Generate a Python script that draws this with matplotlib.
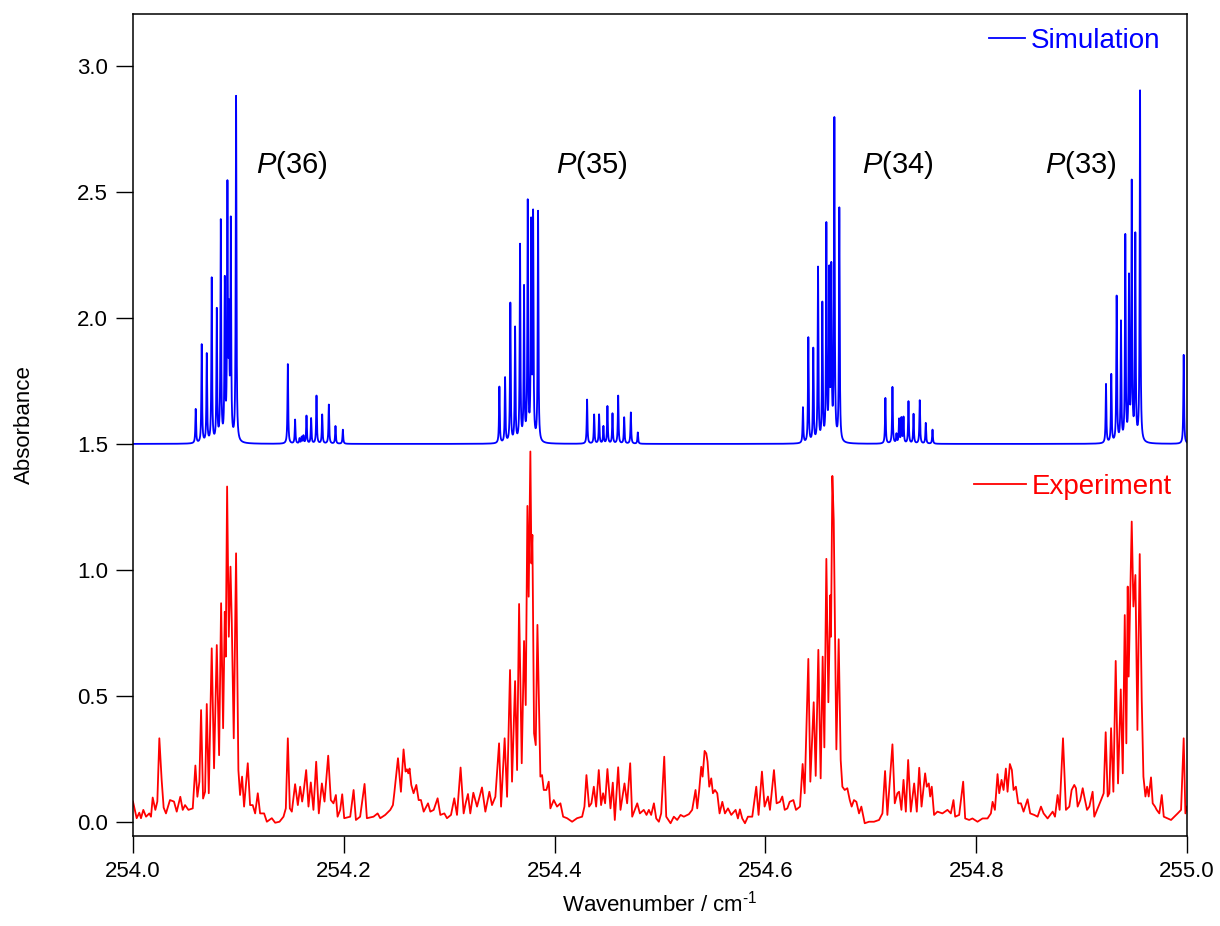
import matplotlib.pyplot as plt
import numpy as np

plt.rcParams['font.family'] = ['Liberation Sans', 'DejaVu Sans']
plt.rcParams['mathtext.fontset'] = 'custom'
plt.rcParams['mathtext.rm'] = 'Liberation Sans'
plt.rcParams['mathtext.it'] = 'Liberation Sans:italic'

# simulated stick spectrum: line positions (cm-1) and peak heights above the offset
sim_pos = [254.0595, 254.0652, 254.0700, 254.0747, 254.0795, 254.0833, 254.0871, 254.0896, 254.0911, 254.0928, 254.0978,
           254.1469, 254.1538, 254.1580, 254.1600, 254.1617, 254.1646, 254.1690, 254.1741, 254.1795, 254.1858, 254.1921, 254.1991,
           254.3476, 254.3530, 254.3580, 254.3625, 254.3672, 254.3710, 254.3745, 254.3777, 254.3796, 254.3843,
           254.4308, 254.4375, 254.4422, 254.4463, 254.4501, 254.4549, 254.4603, 254.4660, 254.4723, 254.4789,
           254.6356, 254.6407, 254.6454, 254.6499, 254.6540, 254.6578, 254.6606, 254.6625, 254.6654, 254.6701,
           254.7138, 254.7205, 254.7243, 254.7268, 254.7290, 254.7310, 254.7357, 254.7405, 254.7464, 254.7521, 254.7585,
           254.9231, 254.9281, 254.9332, 254.9373, 254.9414, 254.9449, 254.9475, 254.9509, 254.9554, 254.9968]
sim_int = [0.135, 0.39, 0.35, 0.65, 0.52, 0.87, 0.62, 0.98, 0.45, 0.85, 1.37,
           0.316, 0.095, 0.02, 0.025, 0.03, 0.11, 0.10, 0.19, 0.115, 0.155, 0.07, 0.056,
           0.224, 0.258, 0.552, 0.452, 0.778, 0.603, 0.94, 0.84, 0.88, 0.913,
           0.175, 0.115, 0.115, 0.068, 0.148, 0.119, 0.19, 0.104, 0.124, 0.045,
           0.141, 0.417, 0.37, 0.69, 0.542, 0.85, 0.65, 0.66, 1.27, 0.925,
           0.181, 0.224, 0.036, 0.095, 0.098, 0.102, 0.167, 0.117, 0.172, 0.082, 0.056,
           0.234, 0.27, 0.578, 0.472, 0.812, 0.635, 1.015, 0.81, 1.392, 0.353]
sim_offset = 1.5
sim_hwhm = 0.0004

# measured spectrum
exp_wn = [254.0000, 254.0035, 254.0060, 254.0076, 254.0098, 254.0124, 254.0155, 254.0171, 254.0187, 254.0212,
          254.0231, 254.0250, 254.0272, 254.0291, 254.0313, 254.0351, 254.0389, 254.0415, 254.0449, 254.0472,
          254.0494, 254.0526, 254.0567, 254.0592, 254.0611, 254.0630, 254.0646, 254.0665, 254.0684, 254.0700,
          254.0719, 254.0747, 254.0769, 254.0795, 254.0817, 254.0836, 254.0855, 254.0871, 254.0880, 254.0893,
          254.0909, 254.0925, 254.0937, 254.0956, 254.0978, 254.1000, 254.1016, 254.1035, 254.1054, 254.1089,
          254.1111, 254.1136, 254.1159, 254.1184, 254.1206, 254.1244, 254.1270, 254.1317, 254.1349, 254.1390,
          254.1428, 254.1450, 254.1469, 254.1488, 254.1507, 254.1538, 254.1564, 254.1586, 254.1605, 254.1617,
          254.1643, 254.1665, 254.1687, 254.1712, 254.1738, 254.1763, 254.1792, 254.1817, 254.1852, 254.1877,
          254.1902, 254.1925, 254.1941, 254.1966, 254.1985, 254.2004, 254.2061, 254.2093, 254.2115, 254.2155,
          254.2197, 254.2219, 254.2282, 254.2321,
          254.2346, 254.2393, 254.2441, 254.2466, 254.2479, 254.2514, 254.2542, 254.2567, 254.2586, 254.2599,
          254.2612, 254.2624, 254.2640, 254.2662, 254.2688, 254.2710, 254.2732, 254.2758, 254.2799, 254.2821,
          254.2853, 254.2890, 254.2916, 254.2954, 254.2979, 254.3017, 254.3048, 254.3074, 254.3108, 254.3137,
          254.3156, 254.3178, 254.3200, 254.3229, 254.3264, 254.3311, 254.3343, 254.3381, 254.3406, 254.3438,
          254.3473, 254.3492, 254.3526, 254.3549, 254.3577, 254.3596, 254.3625, 254.3644, 254.3663, 254.3688,
          254.3710, 254.3726, 254.3742, 254.3754, 254.3770, 254.3780, 254.3789, 254.3805, 254.3821, 254.3837,
          254.3865, 254.3881, 254.3897, 254.3922, 254.3944, 254.3960, 254.3992, 254.4023, 254.4055, 254.4081,
          254.4118, 254.4166, 254.4213, 254.4261, 254.4283, 254.4302, 254.4327, 254.4349, 254.4372, 254.4394,
          254.4419, 254.4441, 254.4460, 254.4479, 254.4501, 254.4530, 254.4552, 254.4571, 254.4603, 254.4625,
          254.4663, 254.4688, 254.4717, 254.4736, 254.4784, 254.4809,
          254.4846, 254.4872, 254.4894, 254.4916, 254.4942, 254.4964, 254.4989, 254.5011, 254.5040, 254.5059,
          254.5100, 254.5131, 254.5163, 254.5195, 254.5226, 254.5274, 254.5305, 254.5337, 254.5353, 254.5372,
          254.5391, 254.5404, 254.5423, 254.5439, 254.5451, 254.5467, 254.5486, 254.5502, 254.5521, 254.5543,
          254.5565, 254.5591, 254.5616, 254.5645, 254.5676, 254.5717, 254.5739, 254.5758, 254.5780, 254.5806,
          254.5834, 254.5875, 254.5913, 254.5935, 254.5967, 254.5992, 254.6024, 254.6043, 254.6081, 254.6106,
          254.6138, 254.6160, 254.6183, 254.6208, 254.6230, 254.6265, 254.6290, 254.6328, 254.6353, 254.6372,
          254.6407, 254.6426, 254.6458, 254.6477, 254.6502, 254.6524, 254.6543, 254.6559, 254.6578, 254.6597,
          254.6616, 254.6622, 254.6635, 254.6648, 254.6660, 254.6673, 254.6695, 254.6714, 254.6730, 254.6752,
          254.6777, 254.6800, 254.6818, 254.6840, 254.6863, 254.6888, 254.6910, 254.6942, 254.6983, 254.7030,
          254.7078, 254.7110, 254.7135, 254.7157, 254.7205, 254.7227, 254.7252, 254.7268, 254.7290, 254.7310,
          254.7332, 254.7354, 254.7379, 254.7411, 254.7436, 254.7459,
          254.7481, 254.7515, 254.7531, 254.7550, 254.7563, 254.7578, 254.7600, 254.7632, 254.7679, 254.7727,
          254.7759, 254.7784, 254.7800, 254.7838, 254.7876, 254.7895, 254.7933, 254.7964, 254.8012, 254.8060,
          254.8107, 254.8139, 254.8155, 254.8177, 254.8202, 254.8218, 254.8240, 254.8259, 254.8281, 254.8297,
          254.8319, 254.8338, 254.8354, 254.8376, 254.8398, 254.8424, 254.8449, 254.8487, 254.8512, 254.8550,
          254.8582, 254.8614, 254.8639, 254.8677, 254.8725, 254.8747, 254.8772, 254.8791, 254.8823, 254.8851,
          254.8883, 254.8905, 254.8930, 254.8946, 254.8962, 254.8987, 254.9010, 254.9025, 254.9051, 254.9073,
          254.9104, 254.9120, 254.9152, 254.9184, 254.9209, 254.9228, 254.9247, 254.9263, 254.9279, 254.9301,
          254.9323, 254.9345, 254.9371, 254.9390, 254.9409, 254.9424, 254.9437, 254.9446, 254.9475, 254.9491,
          254.9510, 254.9529, 254.9551, 254.9570, 254.9586, 254.9605, 254.9621, 254.9636, 254.9658, 254.9674,
          254.9696, 254.9712, 254.9737, 254.9760, 254.9779, 254.9817, 254.9848, 254.9880, 254.9911, 254.9943,
          254.9968, 254.9984, 255.0000]
exp_abs = [0.081, 0.015, 0.037, 0.015, 0.048, 0.021, 0.034, 0.021, 0.097, 0.048,
           0.081, 0.332, 0.167, 0.057, 0.034, 0.087, 0.081, 0.041, 0.100, 0.048,
           0.067, 0.048, 0.054, 0.224, 0.100, 0.160, 0.444, 0.093, 0.120, 0.468,
           0.114, 0.689, 0.213, 0.702, 0.265, 0.868, 0.372, 0.834, 0.656, 1.331,
           0.735, 1.013, 0.800, 0.332, 1.066, 0.206, 0.107, 0.180, 0.061, 0.233,
           0.067, 0.067, 0.034, 0.114, 0.034, 0.034, 0.001, 0.015, -0.003, 0.001,
           0.021, 0.054, 0.332, 0.054, 0.041, 0.150, 0.067, 0.140, 0.081, 0.114,
           0.206, 0.061, 0.157, 0.048, 0.239, 0.034, 0.153, 0.081, 0.263, 0.087,
           0.074, 0.107, 0.021, 0.048, 0.110, 0.015, 0.021, 0.127, 0.008, 0.021,
           0.151, 0.015, 0.021, 0.034,
           0.015, 0.028, 0.048, 0.067, 0.114, 0.253, 0.120, 0.288, 0.200, 0.209,
           0.193, 0.212, 0.147, 0.114, 0.147, 0.087, 0.087, 0.041, 0.074, 0.041,
           0.048, 0.094, 0.028, 0.034, 0.015, 0.028, 0.094, 0.028, 0.216, 0.034,
           0.074, 0.111, 0.034, 0.116, 0.061, 0.137, 0.041, 0.120, 0.067, 0.100,
           0.312, 0.061, 0.332, 0.100, 0.603, 0.160, 0.559, 0.206, 0.865, 0.233,
           0.718, 0.464, 1.254, 0.894, 1.470, 1.026, 1.139, 0.352, 0.305, 0.782,
           0.180, 0.186, 0.127, 0.127, 0.160, 0.054, 0.087, 0.061, 0.074, 0.021,
           0.015, 0.001, 0.015, 0.021, 0.061, 0.186, 0.061, 0.074, 0.140, 0.061,
           0.206, 0.067, 0.114, 0.074, 0.210, 0.054, 0.156, 0.008, 0.217, 0.048,
           0.153, 0.074, 0.233, 0.021, 0.074, 0.034,
           0.048, 0.028, 0.048, 0.028, 0.074, 0.014, 0.001, 0.034, 0.259, 0.021,
           -0.005, 0.021, 0.008, 0.028, 0.021, 0.031, 0.048, 0.127, 0.054, 0.127,
           0.219, 0.180, 0.282, 0.272, 0.239, 0.140, 0.173, 0.114, 0.127, 0.114,
           0.034, 0.080, 0.034, 0.054, 0.028, 0.048, 0.014, 0.050, 0.014, -0.005,
           0.021, 0.021, 0.140, 0.028, 0.200, 0.061, 0.101, 0.048, 0.206, 0.074,
           0.080, 0.101, 0.048, 0.054, 0.080, 0.087, 0.048, 0.061, 0.230, 0.114,
           0.647, 0.160, 0.475, 0.183, 0.683, 0.173, 0.656, 0.296, 1.044, 0.475,
           0.900, 0.735, 1.373, 1.198, 0.775, 0.288, 0.725, 0.246, 0.140, 0.127,
           0.134, 0.087, 0.061, 0.087, 0.080, 0.034, 0.061, -0.005, 0.001, 0.001,
           0.008, 0.034, 0.202, 0.028, 0.308, 0.074, 0.114, 0.120, 0.048, 0.167,
           0.041, 0.246, 0.041, 0.153, 0.041, 0.215,
           0.061, 0.193, 0.140, 0.153, 0.101, 0.140, 0.028, 0.041, 0.034, 0.048,
           0.034, 0.087, 0.021, 0.028, 0.160, 0.014, 0.008, 0.014, 0.001, 0.014,
           0.014, 0.034, 0.080, 0.048, 0.190, 0.114, 0.167, 0.127, 0.212, 0.120,
           0.230, 0.206, 0.127, 0.140, 0.074, 0.074, 0.041, 0.090, 0.034, 0.028,
           0.021, 0.061, 0.034, 0.014, 0.041, 0.021, 0.107, 0.048, 0.332, 0.048,
           0.061, 0.127, 0.147, 0.134, 0.061, 0.087, 0.134, 0.101, 0.048, 0.061,
           0.120, 0.021, 0.054, 0.087, 0.114, 0.356, 0.101, 0.114, 0.372, 0.120,
           0.639, 0.153, 0.526, 0.193, 0.821, 0.312, 0.934, 0.577, 1.192, 0.855,
           0.980, 0.365, 1.063, 0.484, 0.180, 0.101, 0.140, 0.101, 0.177, 0.074,
           0.061, 0.048, 0.034, 0.107, 0.021, 0.014, 0.008, 0.021, 0.034, 0.048,
           0.332, 0.034, 0.061]

band_names = ['36', '35', '34', '33']
band_wn = [254.151, 254.435, 254.7256, 254.899]
band_y = 2.607

# build the simulated trace from the line list (Lorentzian profile)
wn = np.arange(254.0, 255.00001, 0.00005)
sim = np.full_like(wn, sim_offset)
for c, a in zip(sim_pos, sim_int):
    sim += a * sim_hwhm**2 / ((wn - c)**2 + sim_hwhm**2)

fig = plt.figure(figsize=(12.2, 9.26), dpi=100)
ax = fig.add_axes([0.109, 0.0972, 0.864, 0.8877])

l_sim, = ax.plot(wn, sim, color='#0000ff', lw=1.3)
l_exp, = ax.plot(exp_wn, exp_abs, color='#ff0000', lw=1.3)

for name, x in zip(band_names, band_wn):
    ax.text(x, band_y, '$P$(' + name + ')', fontsize=21, ha='center', va='center')

ax.set_xlim(254.0, 255.0)
ax.set_ylim(-0.0556, 3.206)
ax.set_xticks(np.arange(254.0, 255.01, 0.2))
ax.set_yticks(np.arange(0, 3.01, 0.5))
ax.xaxis.set_major_formatter(plt.FormatStrFormatter('%.1f'))
ax.yaxis.set_major_formatter(plt.FormatStrFormatter('%.1f'))
ax.tick_params(direction='out', length=12, width=1, labelsize=16, pad=6)
for s in ax.spines.values():
    s.set_linewidth(1.1)

ax.set_xlabel(r'Wavenumber / cm$^{\text{-1}}$', fontsize=16, labelpad=6)
ax.set_ylabel('Absorbance', fontsize=16, labelpad=30)

leg1 = ax.legend([l_sim], ['Simulation'], loc='center right', bbox_to_anchor=(0.998, 0.967),
                 frameon=False, fontsize=20, handlelength=1.3, handletextpad=0.2, labelcolor='linecolor')
ax.add_artist(leg1)
ax.legend([l_exp], ['Experiment'], loc='center right', bbox_to_anchor=(1.0095, 0.4246),
          frameon=False, fontsize=20, handlelength=1.9, handletextpad=0.2, labelcolor='linecolor')

fig.savefig('out.png', dpi=100)
